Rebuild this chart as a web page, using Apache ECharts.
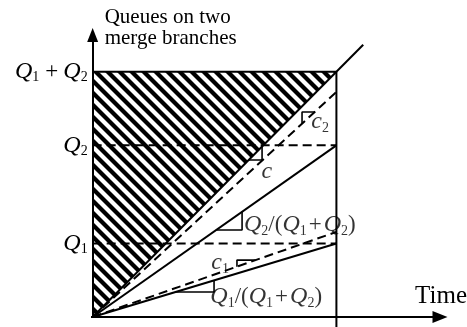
<!DOCTYPE html>
<html>
<head>
<meta charset="utf-8">
<script src="https://cdn.jsdelivr.net/npm/echarts@6/dist/echarts.min.js"></script>
<style>
  html, body { margin: 0; padding: 0; background: #fff; }
  #chart { width: 467px; height: 327px; }
</style>
</head>
<body>
<div id="chart"></div>
<script>
// Queue lengths on the two merge branches
const Q1 = 3;
const Q2 = 7;
const total = Q1 + Q2;
const horizon = Q1 + Q2;              // time at which both queues are cleared

// Horizontal reference levels and their tick labels
const levelValues = [Q1, Q2, total];
const levelLabels = ['{q|Q}{s|1}', '{q|Q}{s|2}', '{q|Q}{s|1}{pl|+}{q|Q}{s|2}'];

// Slopes of the rays from the origin
const shareSlopes = [Q1 / total, Q2 / total];   // Q1/(Q1+Q2), Q2/(Q1+Q2)
const cSlopes = [0.347, 0.918];                   // c1, c2
const fullSlope = 1;                              // c

// Slope markers: [slope, y of horizontal leg, x of vertical leg, side]
const slopeMarks = [
  [fullSlope, 6.40, 6.95, 'below'],
  [shareSlopes[1], 3.55, 6.13, 'below'],
  [shareSlopes[0], 1.02, 4.98, 'below'],
  [cSlopes[1], 8.36, 8.59, 'above'],
  [cSlopes[0], 2.32, 5.92, 'above']
];

// Text annotations placed in data space
const noteText = [
  '{q|Q}{s|2}{op|/(}{q|Q}{s|1}{pi|+}{q|Q}{s|2}{op|)}',
  '{q|Q}{s|1}{op|/(}{q|Q}{s|1}{pi|+}{q|Q}{s|2}{op|)}',
  '{q|c}',
  '{q|c}{s|2}',
  '{q|c}{s|1}'
];
const noteAt = [[8.5, 3.75], [7.12, 0.82], [7.15, 5.91], [9.33, 7.95], [5.23, 2.2]];

const SERIF = "'Liberation Serif', 'Times New Roman', serif";
const rich = {
  q: { fontFamily: SERIF, fontStyle: 'italic', fontSize: 24, color: '#000', lineHeight: 28 },
  s: { fontFamily: SERIF, fontSize: 14, color: '#000', lineHeight: 14, verticalAlign: 'bottom', padding: [0, 0, 1, 0] },
  op: { fontFamily: SERIF, fontSize: 23, color: '#000', lineHeight: 28 },
  pl: { fontFamily: SERIF, fontSize: 23, color: '#000', lineHeight: 28, padding: [0, 5, 0, 6] },
  pi: { fontFamily: SERIF, fontSize: 23, color: '#000', lineHeight: 28, padding: [0, 2, 0, 2] }
};

// Diagonal stripe tile for the hatched triangle
function stripeTile() {
  const p = 12;
  const c = document.createElement('canvas');
  c.width = p; c.height = p;
  const g = c.getContext('2d');
  g.strokeStyle = '#000';
  g.lineWidth = 4.2;
  for (let k = -1; k <= 1; k++) {
    g.beginPath();
    g.moveTo(k * p - 3, -3);
    g.lineTo(k * p + p + 3, p + 3);
    g.stroke();
  }
  return c;
}
const stripes = stripeTile();
const hatchCorners = [[0, 0], [0, total], [horizon, total]];

function seg(points, dashed, width) {
  return {
    type: 'line',
    data: points,
    symbol: 'none',
    silent: true,
    clip: false,
    z: 3,
    lineStyle: { color: '#000', width: width || 2, type: dashed ? [9, 5] : 'solid' }
  };
}

function markPoints(m) {
  const [k, yLeg, xLeg, side] = m;
  if (side === 'below') {
    return [[yLeg / k, yLeg], [xLeg, yLeg], [xLeg, k * xLeg]];
  }
  return [[xLeg, k * xLeg], [xLeg, yLeg], [yLeg / k, yLeg]];
}

const series = [
  {
    type: 'custom',
    coordinateSystem: 'cartesian2d',
    data: [[0, 0]],
    silent: true,
    z: 1,
    renderItem: function (params, api) {
      const pts = hatchCorners.map(p => api.coord(p));
      return {
        type: 'polygon',
        shape: { points: pts },
        style: { fill: { type: 'pattern', image: stripes, repeat: 'repeat' }, stroke: null }
      };
    }
  },
  // time axis continues a little to the left of the origin
  seg([[-1.75, 0], [0, 0]], false),
  // frame of the hatched region
  seg([[0, total], [horizon, total]], false),
  seg([[horizon, -0.45], [horizon, total]], false),
  // solid rays
  seg([[0, 0], [11.1, 11.1 * fullSlope]], false),
  seg([[0, 0], [horizon, horizon * shareSlopes[1]]], false),
  seg([[0, 0], [horizon, horizon * shareSlopes[0]]], false),
  // dashed levels
  seg([[0, levelValues[0]], [horizon, levelValues[0]]], true),
  seg([[0, levelValues[1]], [horizon, levelValues[1]]], true),
  // dashed rays
  seg([[0, 0], [horizon + 0.05, (horizon + 0.05) * cSlopes[1]]], true),
  seg([[0, 0], [horizon, horizon * cSlopes[0]]], true)
];

slopeMarks.forEach(m => series.push(seg(markPoints(m), false, 1.6)));

series.push({
  type: 'scatter',
  symbolSize: 0,
  silent: true,
  z: 5,
  data: noteAt.map((p, i) => ({ value: p, text: noteText[i] })),
  label: {
    show: true,
    position: 'inside',
    formatter: p => p.data.text,
    rich: rich
  }
});

const chart = echarts.init(document.getElementById('chart'), null, { renderer: 'canvas' });
chart.setOption({
  animation: false,
  backgroundColor: '#fff',
  grid: { left: 92.66, right: 27, top: 35, bottom: 10, containLabel: false, outerBoundsMode: 'none' },
  xAxis: {
    type: 'value',
    min: 0,
    max: 14.25,
    name: 'Time',
    nameLocation: 'end',
    nameGap: 27,
    nameMoveOverlap: false,
    nameTextStyle: {
      fontFamily: SERIF, fontSize: 25, color: '#000',
      align: 'right', verticalAlign: 'bottom', padding: [0, 0, 8, 0]
    },
    axisLine: { onZero: false, lineStyle: { color: '#000', width: 2 }, symbol: ['none', 'triangle'], symbolSize: [12, 15] },
    axisTick: { show: false },
    axisLabel: { show: false },
    splitLine: { show: false }
  },
  yAxis: {
    type: 'value',
    min: 0,
    max: 11.5,
    interval: 1,
    name: 'Queues on two\nmerge branches',
    nameLocation: 'end',
    nameGap: 7,
    nameMoveOverlap: false,
    nameTextStyle: {
      fontFamily: SERIF, fontSize: 21, lineHeight: 21, color: '#000',
      align: 'left', verticalAlign: 'middle', padding: [0, 0, 0, 12]
    },
    axisLine: { onZero: false, lineStyle: { color: '#000', width: 2 }, symbol: ['none', 'triangle'], symbolSize: [11, 14] },
    axisTick: { show: false },
    splitLine: { show: false },
    axisLabel: {
      margin: 5,
      hideOverlap: false,
      formatter: v => {
        const i = levelValues.indexOf(v);
        return i >= 0 ? levelLabels[i] : '';
      },
      rich: rich
    }
  },
  series: series
});
</script>
</body>
</html>
